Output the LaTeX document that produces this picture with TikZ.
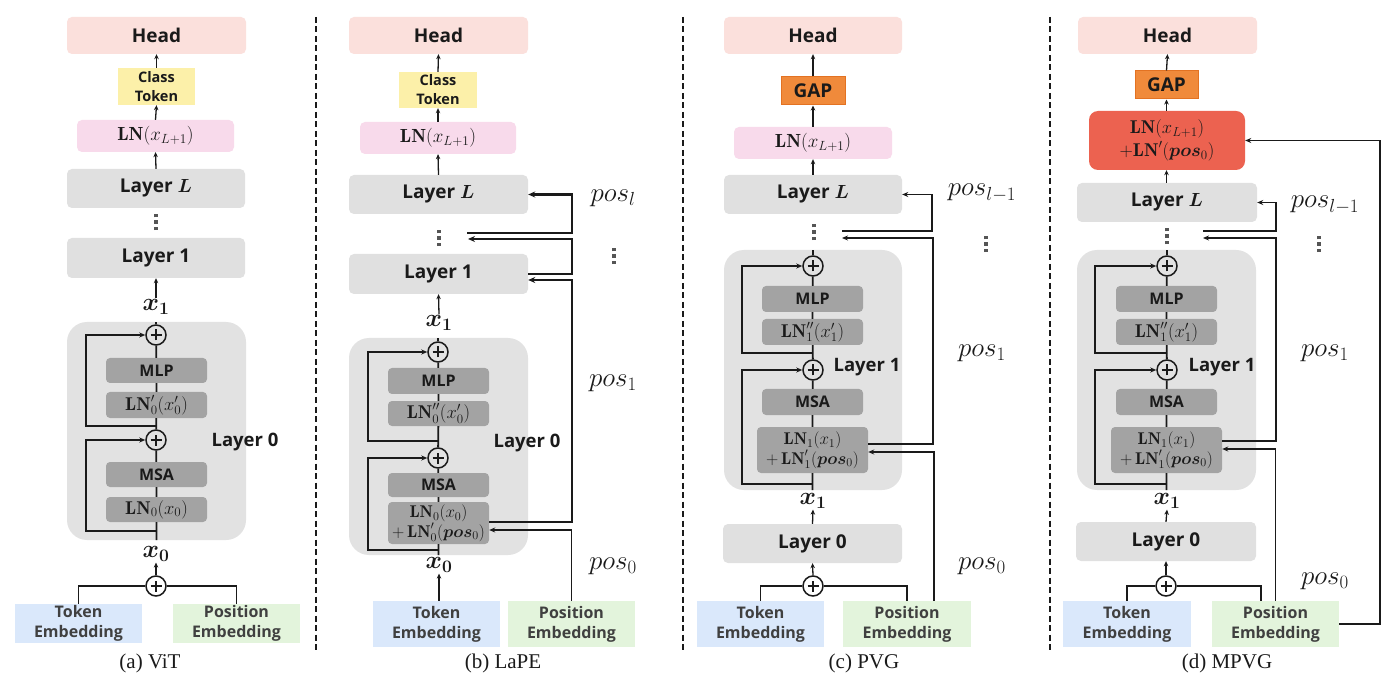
\RequirePackage{fix-cm}
\documentclass[tikz,border=0pt]{standalone}
\usepackage{fontspec}
\usepackage{bm}
\usetikzlibrary{arrows.meta}
\newfontfamily\lab{Open Sans}
\newfontfamily\capf{Liberation Serif}
\definecolor{headc}{HTML}{FBE0DC}
\definecolor{clsc}{HTML}{FCF0A9}
\definecolor{lnc}{HTML}{F8DAEB}
\definecolor{layc}{HTML}{E0E0E0}
\definecolor{contc}{HTML}{E2E2E2}
\definecolor{inc}{HTML}{A3A3A3}
\definecolor{tokc}{HTML}{DAE8FB}
\definecolor{posc}{HTML}{E3F4DC}
\definecolor{gapc}{HTML}{F08A3B}
\definecolor{gapd}{HTML}{E37222}
\definecolor{redc}{HTML}{EC6250}
\definecolor{txt}{HTML}{1A1A1A}
\definecolor{txt2}{HTML}{404040}
\definecolor{dotc}{HTML}{555555}
\newcommand\bx[7]{\node[#6, minimum width={(#4)-(#2)}, minimum height={(#5)-(#3)}] (#1) at ({((#2)+(#4))/2},{((#3)+(#5))/2}) {#7};}
\newcommand\vdt{\vbox{\offinterlineskip\hbox{\rule{3.6pt}{3.6pt}}\kern2.8pt\hbox{\rule{3.6pt}{3.6pt}}\kern2.8pt\hbox{\rule{3.6pt}{3.6pt}}}}
\tikzset{
 base/.style={inner sep=0pt, align=center, text=txt, font=\lab\bfseries\fontsize{19}{22}\selectfont},
 headbox/.style={base, fill=headc, rounded corners=5pt},
 layerbox/.style={base, fill=layc, rounded corners=5pt},
 clsbox/.style={base, fill=clsc, font=\lab\bfseries\fontsize{14.5}{19}\selectfont},
 lnbox/.style={base, fill=lnc, rounded corners=5pt, font=\fontsize{19}{22}\selectfont},
 gapbox/.style={base, fill=gapc, draw=gapd, line width=1pt},
 redbox/.style={base, fill=redc, rounded corners=9pt, font=\fontsize{18.5}{23}\selectfont},
 cont/.style={inner sep=0pt, fill=contc, rounded corners=20pt},
 inbox/.style={base, fill=inc, rounded corners=4pt, font=\lab\bfseries\fontsize{16}{18}\selectfont},
 inmath/.style={base, fill=inc, rounded corners=4pt, font=\fontsize{18.5}{20}\selectfont},
 inmath2/.style={base, fill=inc, rounded corners=4pt, font=\fontsize{17}{19.5}\selectfont},
 tokbox/.style={base, fill=tokc, text=txt2, font=\lab\bfseries\fontsize{16}{20}\selectfont},
 posbox/.style={base, fill=posc, text=txt2, font=\lab\bfseries\fontsize{16}{20}\selectfont},
 lbl/.style={inner sep=0pt, text=txt, font=\lab\bfseries\fontsize{18.5}{22}\selectfont},
 xl/.style={inner sep=1pt, text=txt, font=\fontsize{25}{27}\selectfont},
 posl/.style={inner sep=0pt, text=txt, font=\fontsize{27}{29}\selectfont},
 capn/.style={inner sep=0pt, text=txt, font=\capf\fontsize{21}{23}\selectfont},
 ldots/.style={inner sep=0pt, text=dotc},
 plus/.style={circle, draw=txt, line width=1.5pt, minimum size=20pt, inner sep=0pt,
   path picture={\draw[line width=2.2pt, txt] ([xshift=-5.5pt]path picture bounding box.center) -- ([xshift=5.5pt]path picture bounding box.center);
                 \draw[line width=2.2pt, txt] ([yshift=-5.5pt]path picture bounding box.center) -- ([yshift=5.5pt]path picture bounding box.center);}},
 conn/.style={line width=1.8pt, draw=txt},
 arr/.style={conn, -{Stealth[length=6pt,width=5pt]}},
 sarr/.style={line width=1.3pt, draw=txt, -{Stealth[length=5pt,width=4.5pt]}},
 arrT/.style={line width=2.6pt, draw=txt, -{Stealth[length=7pt,width=6pt]}},
 sep/.style={line width=1.8pt, draw=txt, dash pattern=on 6pt off 3.5pt}
}
\begin{document}
\begin{tikzpicture}[x=1pt,y=-1pt]
\useasboundingbox (0,0) rectangle (1400,700);
\fill[white] (0,0) rectangle (1400,700);

% separators
\draw[sep] (316,17) -- (316,652);
\draw[sep] (683,17) -- (683,652);
\draw[sep] (1050,17) -- (1050,652);

%%%%%%%%%%%%%%%% (a) ViT
\bx{aHead}{67}{17}{246}{54}{headbox}{Head}
\bx{aCls}{118}{68}{195}{105}{clsbox}{Class\\Token}
\bx{aLN}{77}{120}{234}{152}{lnbox}{$\mathbf{LN}(x_{L+1})$}
\bx{aLL}{67}{169}{245}{208}{layerbox}{Layer $\bm{L}$}
\node[ldots] (adots) at (156,222) {\vdt};
\bx{aL1}{67}{238}{245}{278}{layerbox}{Layer 1}
\node[xl] (ax1) at (156,307) {$\bm{x_1}$};
\bx{aL0}{67}{322}{246}{540}{cont}{}
\node[plus] (aP1) at (156,335) {};
\bx{aMLP}{106}{358}{207}{383}{inbox}{MLP}
\bx{aLNp}{106}{392}{207}{418}{inmath}{$\mathbf{LN}_0'(x_0')$}
\node[plus] (aP2) at (156,440) {};
\bx{aMSA}{106}{462}{207}{487}{inbox}{MSA}
\bx{aLN0}{106}{497}{207}{522}{inmath}{$\mathbf{LN}_0(x_0)$}
\node[lbl] (aL0t) at (245,442) {Layer 0};
\node[xl] (ax0) at (156,554) {$\bm{x_0}$};
\node[plus] (aP0) at (156,586) {};
\bx{aTok}{15}{604}{142}{643}{tokbox}{Token\\Embedding}
\bx{aPos}{173}{604}{300}{643}{posbox}{Position\\Embedding}
\node[capn] (acap) at (150,663) {(a) ViT};
\coordinate (aS1) at (156,426);
\coordinate (aS2) at (156,531);

\draw[sarr] (aCls.north) -- (aHead.south);
\draw[sarr] (aLN.north) -- (aCls.south);
\draw[sarr] (aLL.north) -- (aLN.south);
\draw[sarr] (ax1.north) -- (aL1.south);
\draw[conn] (aP1.north) -- (aP1.north |- aL0.north);
\draw[conn] (aP1) -- (aMLP) -- (aLNp) -- (aP2) -- (aMSA) -- (aLN0) -- (aLN0.south |- aL0.south);
\draw[arr] (aS1) -| (86,335) -- (aP1.west);
\draw[arr] (aS2) -| (86,440) -- (aP2.west);
\draw[sarr] (aP0.north) -- (ax0.south);
\draw[conn] (aTok.north) |- (aP0.west);
\draw[conn] (aPos.north) |- (aP0.east);

%%%%%%%%%%%%%%%% (b) LaPE
\bx{bHead}{349}{17}{528}{54}{headbox}{Head}
\bx{bCls}{399}{72}{477}{108}{clsbox}{Class\\Token}
\bx{bLN}{360}{122}{516}{154}{lnbox}{$\mathbf{LN}(x_{L+1})$}
\bx{bLL}{349}{175}{528}{214}{layerbox}{Layer $\bm{L}$}
\node[ldots] (bdots) at (439,238) {\vdt};
\bx{bL1}{349}{254}{528}{294}{layerbox}{Layer 1}
\node[xl] (bx1) at (439,323) {$\bm{x_1}$};
\bx{bL0}{349}{338}{528}{555}{cont}{}
\node[plus] (bP1) at (438,352) {};
\bx{bMLP}{388}{368}{489}{394}{inbox}{MLP}
\bx{bLNpp}{388}{401}{489}{426}{inmath}{$\mathbf{LN}_0''(x_0')$}
\node[plus] (bP2) at (438,458) {};
\bx{bMSA}{388}{473}{489}{497}{inbox}{MSA}
\bx{bLN0}{388}{502}{489}{544}{inmath2}{$\mathbf{LN}_0(x_0)$\\$+\,\mathbf{LN}_0'(\bm{pos}_0)$}
\node[lbl] (bL0t) at (527,443) {Layer 0};
\node[xl] (bx0) at (439,565) {$\bm{x_0}$};
\bx{bTok}{373}{601}{500}{647}{tokbox}{Token\\Embedding}
\bx{bPos}{508}{601}{635}{647}{posbox}{Position\\Embedding}
\node[posl] (bposl) at (613,198) {$pos_l$};
\node[ldots] (bvd) at (614,256) {\vdt};
\node[posl] (bpos1) at (613,383) {$pos_1$};
\node[posl] (bpos0) at (613,566) {$pos_0$};
\node[capn] (bcap) at (503,663) {(b) LaPE};
\coordinate (bS1) at (438,441);
\coordinate (bS2) at (438,550);
\coordinate (bdA) at (467,233);
\coordinate (bdB) at (468,239);

\draw[sarr] (bCls.north) -- (bHead.south);
\draw[sarr] (bLN.north) -- (bCls.south);
\draw[sarr] (bLL.north) -- (bLN.south);
\draw[sarr] (bx1.north) -- (bL1.south);
\draw[conn] (bP1.north) -- (bP1.north |- bL0.north);
\draw[conn] (bP1) -- (bMLP) -- (bLNpp) -- (bP2) -- (bMSA) -- (bLN0) -- (bLN0.south |- bL0.south);
\draw[arr] (bS1) -| (368,352) -- (bP1.west);
\draw[arr] (bS2) -| (368,458) -- (bP2.west);
\draw[sarr] (bTok.north -| bx0) -- (bx0.south);
\draw[arr] (bPos.north) |- ([yshift=-7pt]bLN0.east);
\draw[arrT] ([yshift=1pt]bLN0.east) -| (572,280) -- ([yshift=-6pt]bL1.east);
\draw[arrT] (bL1.east) -| (572,239) -- (bdB);
\draw[arrT] (bdA) -| (572,194.5) -- (bLL.east);

%%%%%%%%%%%%%%%% (c) PVG
\bx{cHead}{724}{17}{902}{54}{headbox}{Head}
\bx{cGAP}{781}{77}{845}{105}{gapbox}{GAP}
\bx{cLN}{734}{127}{892}{159}{lnbox}{$\mathbf{LN}(x_{L+1})$}
\bx{cLL}{724}{175}{902}{214}{layerbox}{Layer $\bm{L}$}
\node[ldots] (cdots) at (814,232) {\vdt};
\bx{cL1}{724}{250}{902}{490}{cont}{}
\node[plus] (cP1) at (813,266) {};
\bx{cMLP}{762}{286}{863}{312}{inbox}{MLP}
\bx{cLNpp}{762}{319}{863}{345}{inmath}{$\mathbf{LN}_1''(x_1')$}
\node[plus] (cP2) at (813,370) {};
\bx{cMSA}{762}{389}{863}{415}{inbox}{MSA}
\bx{cLN1}{757}{427}{868}{473}{inmath2}{$\mathbf{LN}_1(x_1)$\\$+\,\mathbf{LN}_1'(\bm{pos}_0)$}
\node[lbl] (cL1t) at (867,367) {Layer 1};
\node[xl] (cx1) at (813,501) {$\bm{x_1}$};
\bx{cL0}{723}{524}{902}{563}{layerbox}{Layer 0}
\node[plus] (cP0) at (813,586) {};
\bx{cTok}{697}{601}{824}{647}{tokbox}{Token\\Embedding}
\bx{cPos}{843}{601}{971}{647}{posbox}{Position\\Embedding}
\node[posl] (cposl) at (982,193) {$pos_{l-1}$};
\node[ldots] (cvd) at (986,244) {\vdt};
\node[posl] (cpos1) at (982,353) {$pos_1$};
\node[posl] (cpos0) at (982,566) {$pos_0$};
\node[capn] (ccap) at (864,663) {(c) PVG};
\coordinate (cS1) at (813,353);
\coordinate (cS2) at (813,484);
\coordinate (cdA) at (842,231);
\coordinate (cdB) at (842,238);

\draw[sarr] (cGAP.north) -- (cHead.south);
\draw[sarr] (cLN.north) -- (cGAP.south);
\draw[sarr] (cLL.north) -- (cLN.south);
\draw[conn] (cP1.north) -- (cP1.north |- cL1.north);
\draw[conn] (cP1) -- (cMLP) -- (cLNpp) -- (cP2) -- (cMSA) -- (cLN1) -- (cLN1.south |- cL1.south);
\draw[arr] (cS1) -| (742,266) -- (cP1.west);
\draw[arr] (cS2) -| (742,370) -- (cP2.west);
\draw[sarr] (cL0.north) -- (cx1.south);
\draw[sarr] (cP0.north) -- (cL0.south);
\draw[conn] (cTok.north) |- (cP0.west);
\draw[conn] (cPos.north) |- (cP0.east);
\draw[arr] (cdA) -| (932,194.5) -- (cLL.east);
\draw[arr] ([yshift=6pt]cLN1.east) -| (933,238) -- (cdB);
\draw[arr] ([xshift=27pt]cPos.north) |- ([yshift=-2pt]cLN1.east);

%%%%%%%%%%%%%%%% (d) MPVG
\bx{dHead}{1078}{17}{1257}{54}{headbox}{Head}
\bx{dGAP}{1135}{71}{1198}{99}{gapbox}{GAP}
\bx{dLN}{1089}{111}{1245}{170}{redbox}{$\mathbf{LN}(x_{L+1})$\\$+\mathbf{LN}'(\bm{pos}_0)$}
\bx{dLL}{1077}{183}{1257}{222}{layerbox}{Layer $\bm{L}$}
\node[ldots] (ddots) at (1167,236) {\vdt};
\bx{dL1}{1077}{250}{1256}{490}{cont}{}
\node[plus] (dP1) at (1167,266) {};
\bx{dMLP}{1116}{286}{1217}{312}{inbox}{MLP}
\bx{dLNpp}{1116}{319}{1217}{345}{inmath}{$\mathbf{LN}_1''(x_1')$}
\node[plus] (dP2) at (1167,370) {};
\bx{dMSA}{1116}{389}{1217}{415}{inbox}{MSA}
\bx{dLN1}{1111}{427}{1222}{473}{inmath2}{$\mathbf{LN}_1(x_1)$\\$+\,\mathbf{LN}_1'(\bm{pos}_0)$}
\node[lbl] (dL1t) at (1222,367) {Layer 1};
\node[xl] (dx1) at (1167,501) {$\bm{x_1}$};
\bx{dL0}{1076}{522}{1256}{561}{layerbox}{Layer 0}
\node[plus] (dP0) at (1166,586) {};
\bx{dTok}{1063}{601}{1191}{647}{tokbox}{Token\\Embedding}
\bx{dPos}{1212}{601}{1339}{647}{posbox}{Position\\Embedding}
\node[posl] (dposl) at (1325,205) {$pos_{l-1}$};
\node[ldots] (dvd) at (1319,244) {\vdt};
\node[posl] (dpos1) at (1325,353) {$pos_1$};
\node[posl] (dpos0) at (1325,581) {$pos_0$};
\node[capn] (dcap) at (1227,663) {(d) MPVG};
\coordinate (dS1) at (1167,353);
\coordinate (dS2) at (1167,484);
\coordinate (ddA) at (1203,231);
\coordinate (ddB) at (1203,238);

\draw[sarr] (dGAP.north) -- (dHead.south);
\draw[sarr] (dLN.north -| dGAP) -- (dGAP.south);
\draw[sarr] (dLL.north -| dGAP) -- (dLN.south -| dGAP);
\draw[conn] (dP1.north) -- (dP1.north |- dL1.north);
\draw[conn] (dP1) -- (dMLP) -- (dLNpp) -- (dP2) -- (dMSA) -- (dLN1) -- (dLN1.south |- dL1.south);
\draw[arr] (dS1) -| (1095,266) -- (dP1.west);
\draw[arr] (dS2) -| (1095,370) -- (dP2.west);
\draw[sarr] (dL0.north) -- (dx1.south);
\draw[sarr] (dP0.north) -- (dL0.south);
\draw[conn] (dTok.north) |- (dP0.west);
\draw[conn] ([xshift=-14.5pt]dPos.north) |- (dP0.east);
\draw[arr] (ddA) -| (1276,202.5) -- (dLL.east);
\draw[arr] ([yshift=9pt]dLN1.east) -| (1276,238) -- (ddB);
\draw[arr] (dPos.north) |- ([yshift=1pt]dLN1.east);
\draw[arr] (dPos.east) -| (1380,140.5) -- (dLN.east);
\end{tikzpicture}
\end{document}
